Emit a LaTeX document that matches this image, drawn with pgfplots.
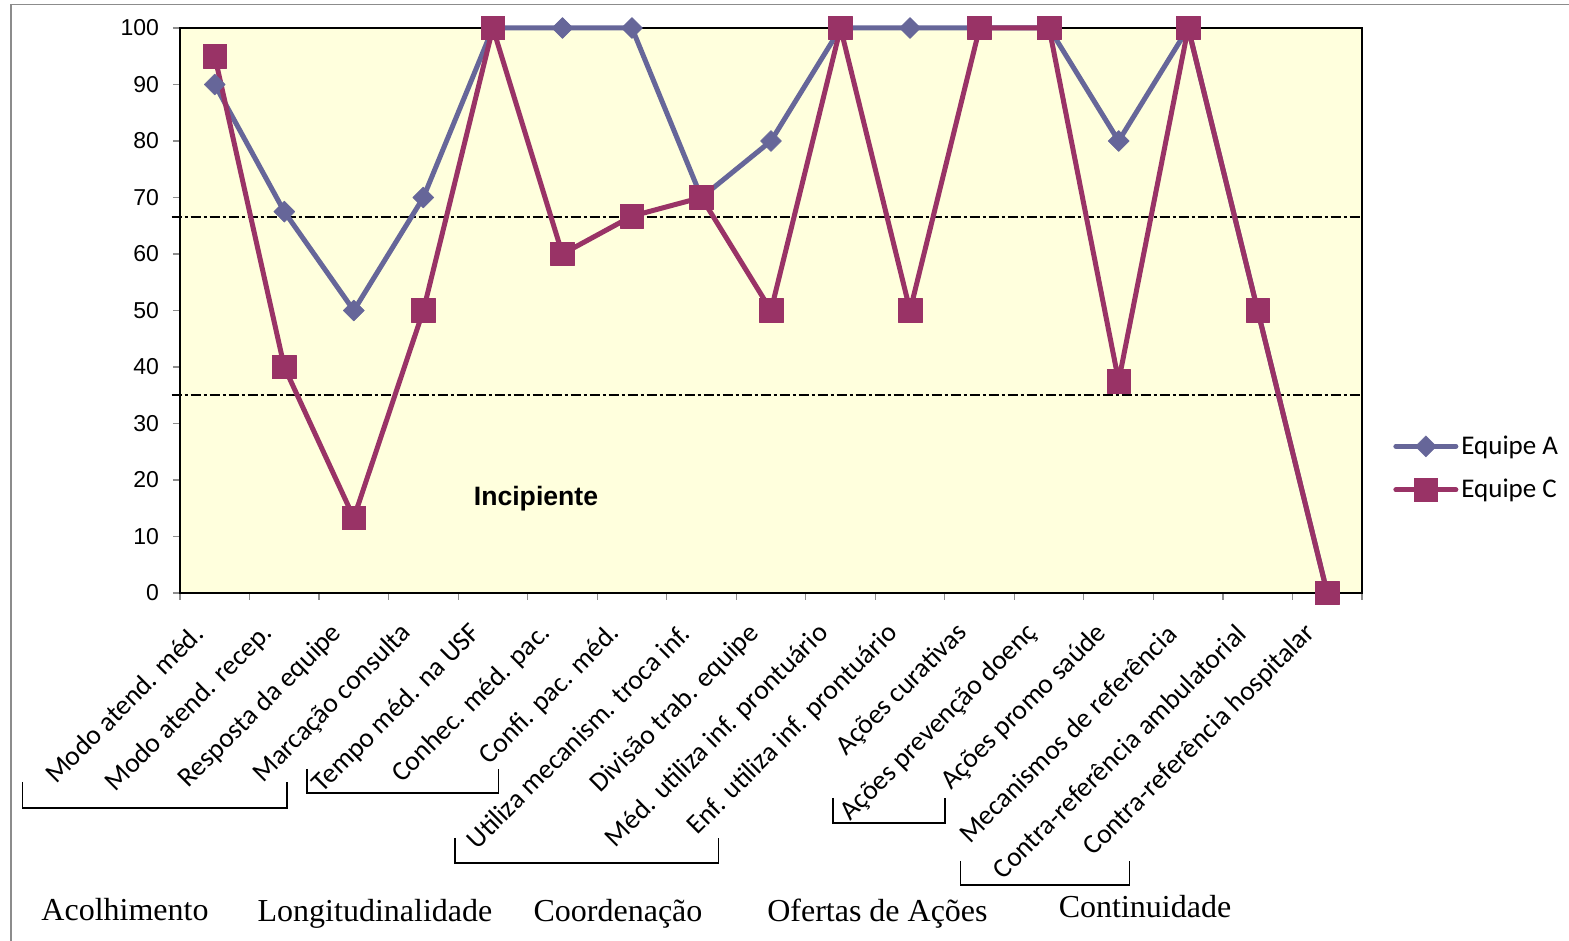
\documentclass[border=0pt]{standalone}
\usepackage{fontspec}
\setmainfont{Liberation Sans}
\newfontfamily\carlito{Carlito}
\newfontfamily\timesf{Liberation Serif}
\usepackage{pgfplots}
\pgfplotsset{compat=1.18}
\definecolor{bgyellow}{RGB}{255,255,221}
\definecolor{teamA}{RGB}{102,102,153}
\definecolor{teamC}{RGB}{153,51,102}
\begin{document}
\begin{tikzpicture}
\useasboundingbox (-90pt,-174pt) rectangle (694.5pt,296.5pt);
\begin{axis}[
  at={(0,0)}, anchor=south west,
  scale only axis, width=591pt, height=282.5pt,
  xmin=-0.5, xmax=16.5, ymin=0, ymax=100,
  axis background/.style={fill=bgyellow},
  axis line style={black, line width=1pt},
  clip=false,
  tick pos=left,
  tick align=outside,
  xtick={0,...,16},
  minor xtick={-0.5,0.5,...,16.5},
  ytick={0,10,...,100},
  major tick length=3.5pt, minor tick length=3.5pt,
  every tick/.style={black!45, line width=0.6pt},
  major x tick style={draw=none},
  /pgf/number format/assume math mode=true,
  yticklabel style={font=\fontsize{11.5pt}{13pt}\selectfont, xshift=-3.5pt},
  xticklabels={Modo atend. méd., Modo atend. recep., Resposta da equipe, Marcação consulta, Tempo méd. na USF, Conhec. méd. pac., Confi. pac. méd., Utiliza mecanism. troca inf., Divisão trab. equipe, Méd. utiliza inf. prontuário, Enf. utiliza inf. prontuário, Ações curativas, Ações prevenção doenç, Ações promo saúde, Mecanismos de referência, Contra-referência ambulatorial, Contra-referência hospitalar},
  xticklabel style={font=\carlito\fontsize{13.8pt}{16pt}\selectfont, inner sep=0pt, anchor=east, xshift=-8pt, yshift=-14.5pt, rotate=45},
  legend style={at={(1.0262,0.221)}, anchor=west, draw=none, fill=none,
    font=\carlito\fontsize{13.5pt}{16pt}\selectfont, row sep=8pt, inner sep=0pt,
    nodes={inner sep=1.5pt}},
  legend cell align=left,
  legend image code/.code={\draw[mark repeat=2, mark phase=2] plot coordinates {(0pt,0pt) (15pt,0pt) (30pt,0pt)};},
]
\addplot[black, line width=1pt, dash pattern=on 5pt off 1.5pt on 1.5pt off 1.5pt, forget plot] coordinates {(-0.62,66.5) (16.5,66.5)};
\addplot[black, line width=1pt, dash pattern=on 5pt off 1.5pt on 1.5pt off 1.5pt, forget plot] coordinates {(-0.62,35) (16.5,35)};
\addplot[teamA, line width=2.5pt, line cap=round, line join=round, mark=square*, mark size=3.7pt,
  mark options={rotate=45, solid, line width=0.3pt, fill=teamA, draw=teamA}] coordinates {
  (0,90) (1,67.5) (2,50) (3,70) (4,100) (5,100) (6,100) (7,70) (8,80) (9,100) (10,100) (11,100) (12,100) (13,80) (14,100) (15,50) (16,0)};
\addlegendentry{Equipe A}
\addplot[teamC, line width=2.5pt, line cap=round, line join=round, mark=square*, mark size=5.9pt,
  mark options={solid, line width=0.3pt, fill=teamC, draw=teamC}] coordinates {
  (0,95) (1,40) (2,13.3) (3,50) (4,100) (5,60) (6,66.7) (7,70) (8,50) (9,100) (10,50) (11,100) (12,100) (13,37.5) (14,100) (15,50) (16,0)};
\addlegendentry{Equipe C}
\node[font=\bfseries\fontsize{13.3pt}{15pt}\selectfont] at (axis cs:4.62,16.7) {Incipiente};
\end{axis}
\begin{scope}[x=0.5pt, y=-0.5pt, shift={(-90pt,296.5pt)}]
  \draw[black!45, line width=0.75pt] (11,941) -- (11,4.5) -- (1569,4.5);
  \draw[black, line width=0.75pt] (22.4,782) -- (22.4,808) -- (287,808) -- (287,782);
  \draw[black, line width=0.75pt] (307,769) -- (307,793) -- (498.5,793) -- (498.5,769);
  \draw[black, line width=0.75pt] (455,838) -- (455,863) -- (718.4,863) -- (718.4,838);
  \draw[black, line width=0.75pt] (832.8,798) -- (832.8,823) -- (945,823) -- (945,798);
  \draw[black, line width=0.75pt] (960.6,861) -- (960.6,885) -- (1129.4,885) -- (1129.4,861);
  \begin{scope}[every node/.style={anchor=base, inner sep=0pt, font=\timesf\fontsize{16pt}{19pt}\selectfont}]
    \node at (125,921) {Acolhimento};
    \node at (375,922) {Longitudinalidade};
    \node at (618,922) {Coordenação};
    \node at (877.5,922) {Ofertas de Ações};
    \node at (1145,918) {Continuidade};
  \end{scope}
\end{scope}
\end{tikzpicture}
\end{document}
